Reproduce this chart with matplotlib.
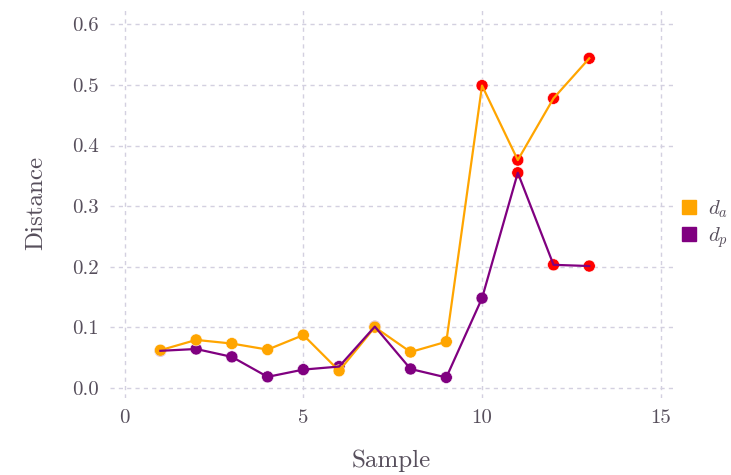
import matplotlib
matplotlib.use("Agg")
import matplotlib.pyplot as plt
from matplotlib.lines import Line2D

samples = [1, 2, 3, 4, 5, 6, 7, 8, 9, 10, 11, 12, 13]
d_a = [0.062, 0.079, 0.073, 0.063, 0.087, 0.028, 0.100, 0.059, 0.076, 0.499, 0.376, 0.478, 0.544]
d_p = [0.061, 0.064, 0.051, 0.018, 0.030, 0.035, 0.101, 0.031, 0.017, 0.148, 0.355, 0.203, 0.201]
anom_a = [0, 0, 0, 0, 0, 0, 0, 0, 0, 1, 1, 1, 1]
anom_p = [0, 0, 0, 0, 0, 0, 0, 0, 0, 0, 1, 1, 1]
xticks = [0, 5, 10, 15]
yticks = [0.0, 0.1, 0.2, 0.3, 0.4, 0.5, 0.6]

ORANGE = "#FFA500"
PURPLE = "#800080"
RED = "#FF0000"
TXT = "#574f5c"
GRID = "#d3d0e0"

plt.rcParams["font.family"] = ["cmr10", "DejaVu Serif"]
plt.rcParams["mathtext.fontset"] = "cm"
plt.rcParams["axes.formatter.use_mathtext"] = True

fig = plt.figure(figsize=(7.31, 4.75), dpi=100)
ax = fig.add_axes([0.150, 0.162, 0.771, 0.821])

ms = 75
ax.scatter(samples, d_p, s=ms, c=[RED if a else PURPLE for a in anom_p], zorder=2,
           edgecolors="white", linewidths=0.4)
ax.scatter(samples, d_a, s=ms, c=[RED if a else ORANGE for a in anom_a], zorder=2,
           edgecolors="white", linewidths=0.4)
ax.plot(samples, d_a, color=ORANGE, lw=1.6, zorder=3)
ax.plot(samples, d_p, color=PURPLE, lw=1.6, zorder=3)

ax.set_xlim(-0.42, 15.35)
ax.set_ylim(-0.017, 0.627)
ax.set_xticks(xticks)
ax.set_yticks(yticks)
ax.set_yticklabels([f"{v:.1f}" for v in yticks])
ax.set_xticklabels([str(v) for v in xticks])
ax.grid(True, color=GRID, linestyle=(0, (3, 3)), linewidth=1.0)
ax.set_axisbelow(True)
for s in ax.spines.values():
    s.set_visible(False)
ax.tick_params(length=0, labelsize=15, colors=TXT, pad=8)

ax.set_xlabel("Sample", fontsize=18, color=TXT, labelpad=16)
ax.set_ylabel("Distance", fontsize=18, color=TXT, labelpad=18)

handles = [Line2D([], [], marker="s", linestyle="none", color=ORANGE, markersize=10),
           Line2D([], [], marker="s", linestyle="none", color=PURPLE, markersize=10)]
leg = ax.legend(handles, [r"$d_a$", r"$d_p$"], loc="center left", bbox_to_anchor=(1.013, 0.445),
                frameon=False, fontsize=15, handlelength=0.8, handletextpad=0.5,
                labelspacing=0.25, borderaxespad=0.0, borderpad=0.0)
for t in leg.get_texts():
    t.set_color(TXT)

fig.savefig("out.png", dpi=100)
